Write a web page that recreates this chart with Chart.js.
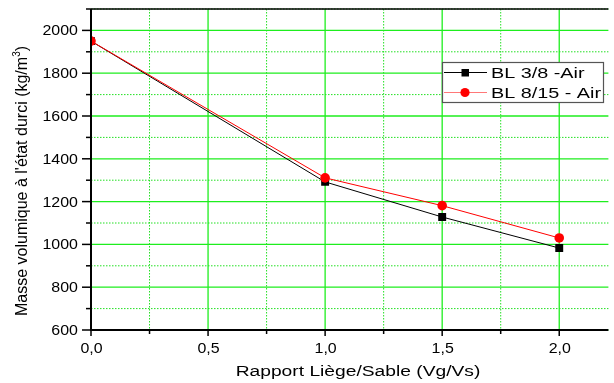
<!DOCTYPE html>
<html>
<head>
<meta charset="utf-8">
<script src="https://cdn.jsdelivr.net/npm/chart.js@4/dist/chart.umd.min.js"></script>
<style>
  html, body { margin: 0; padding: 0; background: #ffffff; }
  #wrap { width: 614px; height: 383px; }
</style>
</head>
<body>
<div id="wrap"><canvas id="c" width="614" height="383"></canvas></div>
<script>
// Ratio liège/sable (Vg/Vs)
const ratios = [0.0, 1.0, 1.5, 2.0];
// Masse volumique à l'état durci (kg/m3)
const densityBL38 = [1950, 1292, 1128, 983];
const densityBL815 = [1950, 1311, 1181, 1030];

const seriesNames = ['BL 3/8 -Air', 'BL 8/15 - Air'];

const xMajorTicks = [0.0, 0.5, 1.0, 1.5, 2.0];
const xMinorTicks = [0.25, 0.75, 1.25, 1.75];
const yMajorTicks = [600, 800, 1000, 1200, 1400, 1600, 1800, 2000];
const yMinorTicks = [700, 900, 1100, 1300, 1500, 1700, 1900, 2100];

const X_MIN = 0, X_MAX = 2.21, Y_MIN = 600, Y_MAX = 2100;

const FAMILY = '"Liberation Sans", Arial, sans-serif';

function toPoints(xs, ys) {
  return xs.map((x, i) => ({ x: x, y: ys[i] }));
}

// Text with a horizontal widening factor
function wideText(ctx, text, x, y, size, sx, align) {
  ctx.save();
  ctx.font = size + 'px ' + FAMILY;
  const w = ctx.measureText(text).width * sx;
  let x0 = x;
  if (align === 'center') x0 = x - w / 2;
  else if (align === 'right') x0 = x - w;
  ctx.translate(x0, y);
  ctx.scale(sx, 1);
  ctx.textAlign = 'left';
  ctx.textBaseline = 'alphabetic';
  ctx.fillStyle = '#000000';
  ctx.fillText(text, 0, 0);
  ctx.restore();
}

const gridPlugin = {
  id: 'originGrid',
  beforeDatasetsDraw(chart) {
    const ctx = chart.ctx;
    const a = chart.chartArea;
    const xs = chart.scales.x, ys = chart.scales.y;
    ctx.save();
    ctx.lineWidth = 1;
    // minor dotted lines
    ctx.strokeStyle = '#22e022';
    ctx.setLineDash([1.5, 1.5]);
    xMinorTicks.forEach(v => {
      const p = xs.getPixelForValue(v);
      ctx.beginPath(); ctx.moveTo(p, a.top); ctx.lineTo(p, a.bottom); ctx.stroke();
    });
    yMinorTicks.forEach(v => {
      const p = ys.getPixelForValue(v);
      ctx.beginPath(); ctx.moveTo(a.left, p); ctx.lineTo(a.right, p); ctx.stroke();
    });
    // major solid lines
    ctx.setLineDash([]);
    ctx.strokeStyle = '#1eee1e';
    ctx.lineWidth = 1.3;
    xMajorTicks.forEach(v => {
      const p = xs.getPixelForValue(v);
      ctx.beginPath(); ctx.moveTo(p, a.top); ctx.lineTo(p, a.bottom); ctx.stroke();
    });
    yMajorTicks.forEach(v => {
      const p = ys.getPixelForValue(v);
      ctx.beginPath(); ctx.moveTo(a.left, p); ctx.lineTo(a.right, p); ctx.stroke();
    });
    ctx.restore();
  },
  afterDatasetsDraw(chart) {
    const ctx = chart.ctx;
    const a = chart.chartArea;
    const xs = chart.scales.x, ys = chart.scales.y;
    ctx.save();
    ctx.strokeStyle = '#000000';
    // frame: left, bottom, top
    ctx.lineWidth = 2;
    ctx.beginPath(); ctx.moveTo(a.left, a.top); ctx.lineTo(a.left, a.bottom + 1); ctx.stroke();
    ctx.beginPath(); ctx.moveTo(a.left - 1, a.bottom); ctx.lineTo(a.right, a.bottom); ctx.stroke();
    ctx.lineWidth = 1.5;
    ctx.beginPath(); ctx.moveTo(a.left, a.top); ctx.lineTo(a.right, a.top); ctx.stroke();

    // tick marks
    ctx.lineWidth = 1.5;
    yMajorTicks.forEach(v => {
      const p = ys.getPixelForValue(v);
      ctx.beginPath(); ctx.moveTo(a.left - 9, p); ctx.lineTo(a.left, p); ctx.stroke();
    });
    yMinorTicks.forEach(v => {
      const p = ys.getPixelForValue(v);
      ctx.beginPath(); ctx.moveTo(a.left - 5, p); ctx.lineTo(a.left, p); ctx.stroke();
    });
    xMajorTicks.forEach(v => {
      const p = xs.getPixelForValue(v);
      ctx.beginPath(); ctx.moveTo(p, a.bottom); ctx.lineTo(p, a.bottom + 6); ctx.stroke();
    });
    xMinorTicks.forEach(v => {
      const p = xs.getPixelForValue(v);
      ctx.beginPath(); ctx.moveTo(p, a.bottom); ctx.lineTo(p, a.bottom + 4); ctx.stroke();
    });
    ctx.restore();

    // tick labels
    yMajorTicks.forEach(v => {
      wideText(ctx, String(v), a.left - 13, ys.getPixelForValue(v) + 5, 14, 1.14, 'right');
    });
    xMajorTicks.forEach(v => {
      wideText(ctx, v.toFixed(1).replace('.', ','), xs.getPixelForValue(v) + 0.5, a.bottom + 22.5, 14, 1.14, 'center');
    });

    // x axis title
    wideText(ctx, 'Rapport Liège/Sable (Vg/Vs)', 358, 376, 15.5, 1.24, 'center');

    // y axis title (rotated, with superscript)
    ctx.save();
    const main = 'Masse volumique à l\'état durci (kg/m';
    const sup = '3';
    const close = ')';
    ctx.font = '16px ' + FAMILY;
    const wMain = ctx.measureText(main).width;
    const wClose = ctx.measureText(close).width;
    ctx.font = '10px ' + FAMILY;
    const wSup = ctx.measureText(sup).width;
    const total = wMain + wSup + wClose;
    ctx.translate(27, 181);
    ctx.rotate(-Math.PI / 2);
    ctx.fillStyle = '#000000';
    ctx.textAlign = 'left';
    ctx.textBaseline = 'alphabetic';
    let x0 = -total / 2;
    ctx.font = '16px ' + FAMILY;
    ctx.fillText(main, x0, 0);
    ctx.font = '10px ' + FAMILY;
    ctx.fillText(sup, x0 + wMain, -7);
    ctx.font = '16px ' + FAMILY;
    ctx.fillText(close, x0 + wMain + wSup, 0);
    ctx.restore();
  },
  afterDraw(chart) {
    const ctx = chart.ctx;
    const bx = 442, by = 62, bw = 161, bh = 40;
    ctx.save();
    ctx.fillStyle = '#ffffff';
    ctx.fillRect(bx, by, bw, bh);
    ctx.strokeStyle = '#555555';
    ctx.lineWidth = 1.2;
    ctx.strokeRect(bx + 0.5, by + 0.5, bw, bh);
    ctx.restore();

    const rows = [72.5, 92.5];
    const lineColors = ['#000000', '#ff7878'];
    chart.data.datasets.forEach((ds, i) => {
      const y = rows[i];
      ctx.save();
      ctx.strokeStyle = lineColors[i];
      ctx.lineWidth = 1.2;
      ctx.beginPath(); ctx.moveTo(444, y); ctx.lineTo(487, y); ctx.stroke();
      ctx.fillStyle = ds.pointBackgroundColor;
      ctx.beginPath();
      if (ds.pointStyle === 'rect') {
        ctx.rect(461.5, y - 3.5, 7.5, 7.5);
      } else {
        ctx.arc(465, y, 4.6, 0, Math.PI * 2);
      }
      ctx.fill();
      ctx.restore();
      wideText(ctx, ds.label, 491, y + 5, 15, 1.32, 'left');
    });
  }
};

new Chart(document.getElementById('c'), {
  type: 'scatter',
  data: {
    datasets: [
      {
        label: seriesNames[0],
        data: toPoints(ratios, densityBL38),
        showLine: true,
        borderColor: '#000000',
        borderWidth: 1,
        pointStyle: 'rect',
        pointRadius: 5.6,
        pointHoverRadius: 5.6,
        pointBackgroundColor: '#000000',
        pointBorderWidth: 0,
        tension: 0,
        clip: 0,
        order: 2
      },
      {
        label: seriesNames[1],
        data: toPoints(ratios, densityBL815),
        showLine: true,
        borderColor: '#ff0000',
        borderWidth: 1,
        pointStyle: 'circle',
        pointRadius: 4.8,
        pointHoverRadius: 4.8,
        pointBackgroundColor: '#ff0000',
        pointBorderWidth: 0,
        tension: 0,
        clip: 0,
        order: 1
      }
    ]
  },
  options: {
    responsive: false,
    animation: false,
    devicePixelRatio: 1,
    layout: { padding: { left: 91, top: 9, right: 0, bottom: 53 } },
    plugins: {
      legend: { display: false },
      tooltip: { enabled: false },
      title: { display: false }
    },
    scales: {
      x: { type: 'linear', display: false, min: X_MIN, max: X_MAX },
      y: { type: 'linear', display: false, min: Y_MIN, max: Y_MAX }
    }
  },
  plugins: [gridPlugin]
});
</script>
</body>
</html>
